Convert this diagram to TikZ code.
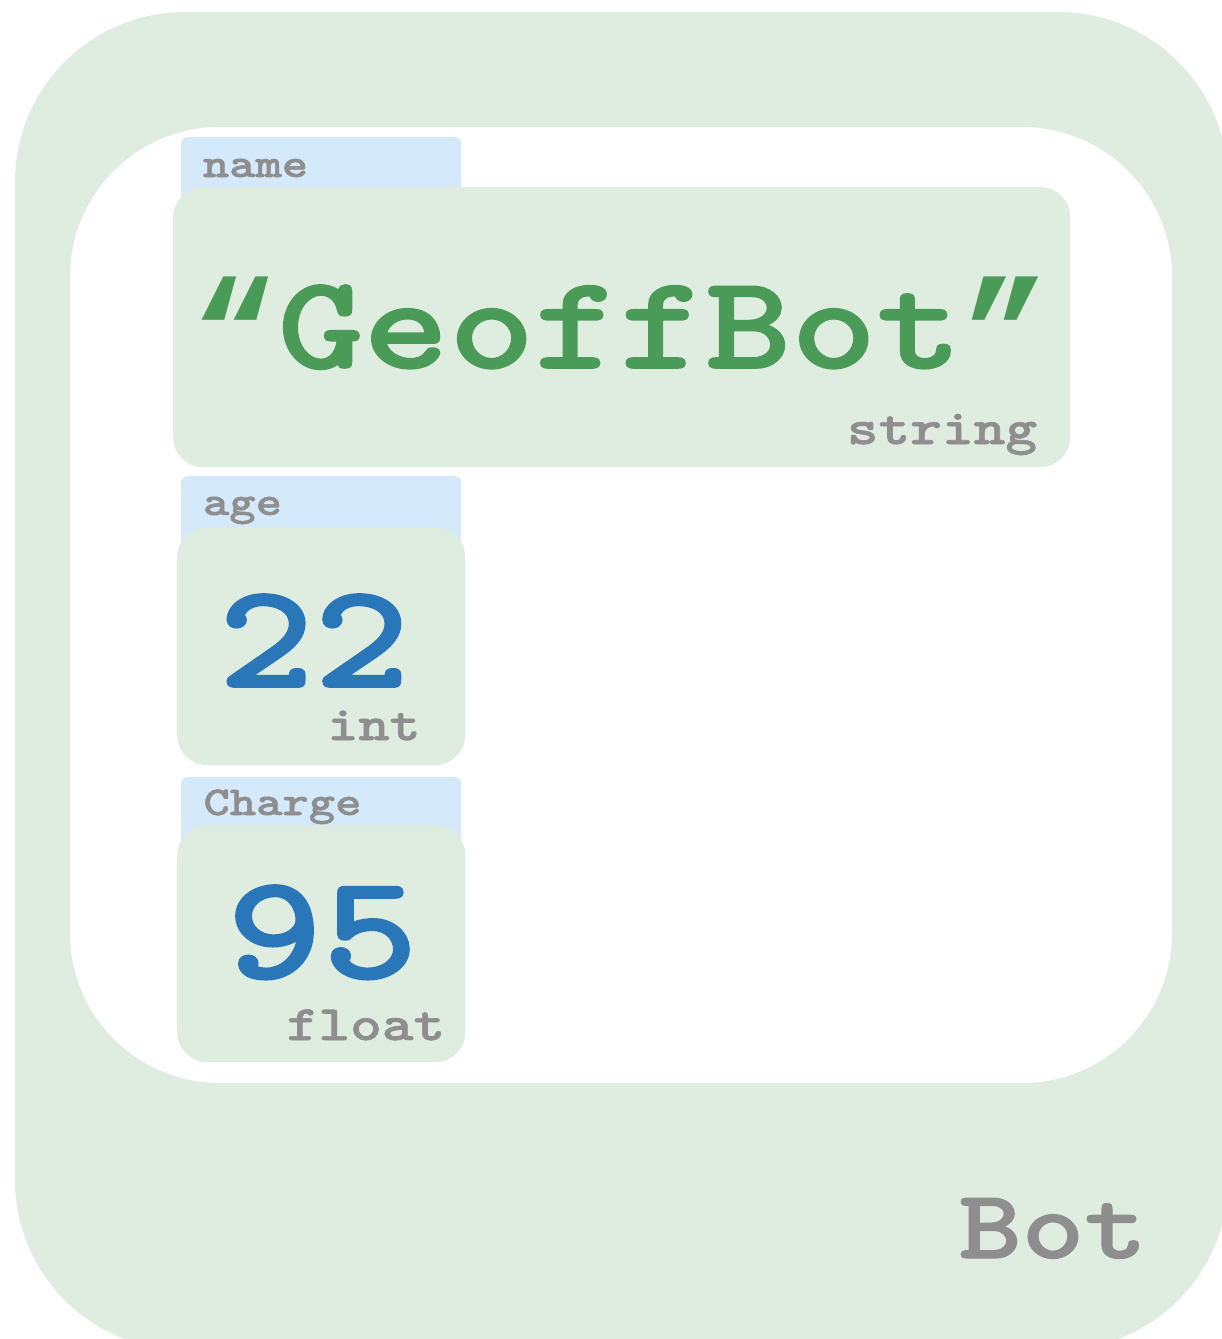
\documentclass[tikz,border=0pt]{standalone}
\usepackage{fontspec}
\newfontfamily\cour{lmmonolt10-bold}[Extension=.otf,FakeStretch=1.22,FakeBold=1.2]
\newfontfamily\qfont{Liberation Mono}[UprightFont=* Bold]
\definecolor{panel}{HTML}{DFECE0}
\definecolor{lblblue}{HTML}{D4EAFB}
\definecolor{strgreen}{HTML}{4A9A58}
\definecolor{numblue}{HTML}{2976B8}
\definecolor{tgray}{HTML}{8E8E8E}
\tikzset{
  px/.style={x={(1pt,0)},y={(0,-1pt)}},
  lblbox/.style={rectangle,fill=lblblue,rounded corners=6pt,inner sep=0pt,anchor=north west},
  valbox/.style={rectangle,fill=panel,rounded corners=30pt,inner sep=0pt,anchor=north west},
  txt/.style={inner sep=0pt,anchor=base,font=\cour\fontsize{\fpeval{0.934*#1}pt}{#1pt}\selectfont},
}
\newcommand{\myopenq}{{\qfont\fontsize{143pt}{143pt}\selectfont\raisebox{-12pt}{“}}}
\newcommand{\mycloseq}{{\qfont\fontsize{143pt}{143pt}\selectfont\raisebox{-12pt}{”}}}
\begin{document}
\begin{tikzpicture}[px]
\useasboundingbox (0,0) rectangle (1222,1339);
\clip (0,0) rectangle (1222,1339);
% outer frame
\fill[panel,rounded corners=170pt] (15,12) rectangle (1228,1350);
\fill[white,rounded corners=150pt] (70,127) rectangle (1172,1083);
% name field
\node[lblbox,minimum width=280pt,minimum height=70pt] (nameLbl) at (181,137) {};
\node[valbox,minimum width=897pt,minimum height=280pt] (nameVal) at (173,187) {};
\node[txt=44,text=tgray] (nameTxt) at (255.5,177) {name};
\node[txt=143,text=strgreen] (nameV) at (620,368) {\myopenq GeoffBot\mycloseq};
\node[txt=53,text=tgray] (nameT) at (942,444) {string};
% age field
\node[lblbox,minimum width=280pt,minimum height=70pt] (ageLbl) at (181,476) {};
\node[valbox,minimum width=288pt,minimum height=238pt] (ageVal) at (177,527) {};
\node[txt=44,text=tgray] (ageTxt) at (242.5,515) {age};
\node[txt=160,text=numblue] (ageV) at (314,687) {22};
\node[txt=52,text=tgray] (ageT) at (374,740) {int};
% charge field
\node[lblbox,minimum width=280pt,minimum height=70pt] (chgLbl) at (181,777) {};
\node[valbox,minimum width=288pt,minimum height=237pt] (chgVal) at (177,825) {};
\node[txt=44,text=tgray] (chgTxt) at (282.5,815) {Charge};
\node[txt=160,text=numblue] (chgV) at (322.5,978) {95};
\node[txt=53,text=tgray] (chgT) at (366,1040) {float};
% type name
\node[txt=105,text=tgray] (botT) at (1053,1258) {Bot};
\end{tikzpicture}
\end{document}
